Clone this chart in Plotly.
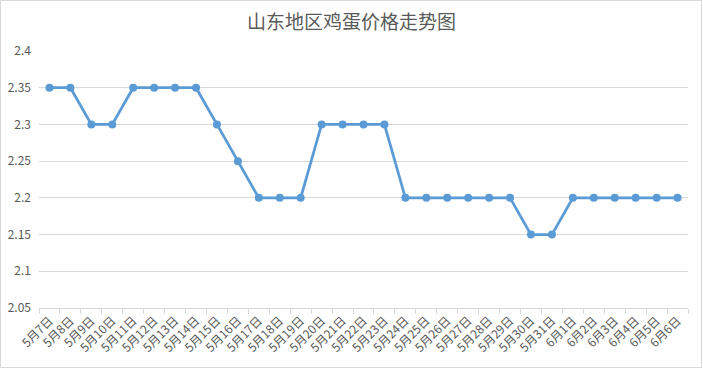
import plotly.graph_objects as go

dates = ["5月7日", "5月8日", "5月9日", "5月10日", "5月11日", "5月12日", "5月13日", "5月14日",
         "5月15日", "5月16日", "5月17日", "5月18日", "5月19日", "5月20日", "5月21日", "5月22日",
         "5月23日", "5月24日", "5月25日", "5月26日", "5月27日", "5月28日", "5月29日", "5月30日",
         "5月31日", "6月1日", "6月2日", "6月3日", "6月4日", "6月5日", "6月6日"]
prices = [2.35, 2.35, 2.3, 2.3, 2.35, 2.35, 2.35, 2.35,
          2.3, 2.25, 2.2, 2.2, 2.2, 2.3, 2.3, 2.3,
          2.3, 2.2, 2.2, 2.2, 2.2, 2.2, 2.2, 2.15,
          2.15, 2.2, 2.2, 2.2, 2.2, 2.2, 2.2]
y_ticks = [2.05, 2.1, 2.15, 2.2, 2.25, 2.3, 2.35, 2.4]
y_tick_labels = ["2.05", "2.1", "2.15", "2.2", "2.25", "2.3", "2.35", "2.4"]

W, H = 703, 369
ml, mr, mt, mb = 39, 15, 51, 61

fig = go.Figure()
fig.add_trace(go.Scatter(
    x=dates, y=prices, mode="lines+markers",
    line=dict(color="#5B9BD5", width=2.75),
    marker=dict(color="#5B9BD5", size=8),
    hoverinfo="x+y", showlegend=False,
))

fig.update_layout(
    width=W, height=H,
    margin=dict(l=ml, r=mr, t=mt, b=mb, autoexpand=False),
    paper_bgcolor="white", plot_bgcolor="white",
    font=dict(family="Noto Sans CJK SC, Microsoft YaHei, sans-serif", color="#595959", size=12),
    title=dict(text="山东地区鸡蛋价格走势图", x=0.5, xanchor="center", y=1 - 22 / H, yanchor="middle",
               font=dict(size=19, color="#595959")),
    xaxis=dict(
        type="category", range=[-0.5, len(dates) - 0.5], tickangle=-45, showgrid=False, automargin=False,
        showline=True, linecolor="#D9D9D9", linewidth=1,
        ticks="outside", tickson="boundaries", ticklen=5, tickcolor="#D9D9D9",
        tickfont=dict(size=12, color="#595959"), fixedrange=True,
    ),
    yaxis=dict(
        range=[2.05, 2.4], tickvals=y_ticks, ticktext=y_tick_labels, automargin=False,
        showgrid=True, gridcolor="#D9D9D9", gridwidth=1,
        zeroline=False, showline=False, ticks="",
        tickfont=dict(size=12, color="#595959"), ticklabelstandoff=7, fixedrange=True,
    ),
    shapes=[dict(
        type="rect", xref="paper", yref="paper",
        x0=-(ml - 0.5) / (W - ml - mr), x1=1 + (mr - 1.5) / (W - ml - mr),
        y0=-(mb - 1.5) / (H - mt - mb), y1=1 + (mt - 0.5) / (H - mt - mb),
        line=dict(color="#D9D9D9", width=1), fillcolor="rgba(0,0,0,0)", layer="below",
    )],
)

fig.write_html("out.html", config={"displayModeBar": False},
               post_script="document.body.style.margin='0';document.body.style.overflow='hidden';")
